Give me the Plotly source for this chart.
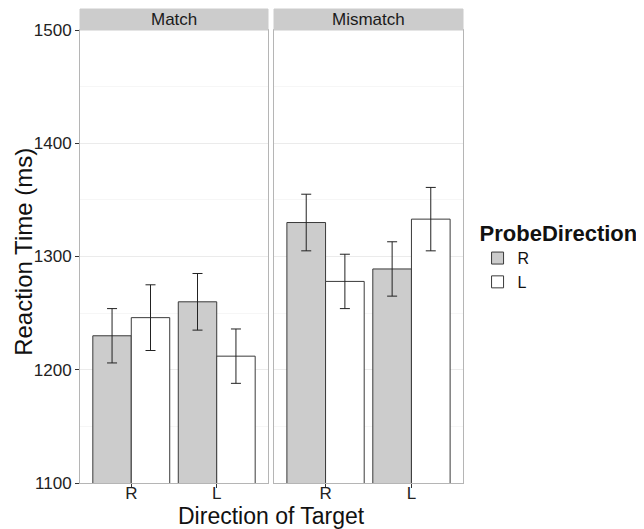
import plotly.graph_objects as go

target_dirs = ["R", "L"]
panels = ["Match", "Mismatch"]
probe_dirs = ["R", "L"]

# mean RT per panel / probe direction, over target_dirs
match_R = [1230, 1260]
match_L = [1246, 1212]
mismatch_R = [1330, 1289]
mismatch_L = [1278, 1333]
# standard errors
match_R_se = [24, 25]
match_L_se = [29, 24]
mismatch_R_se = [25, 24]
mismatch_L_se = [24, 28]

y_ticks = [1100, 1200, 1300, 1400, 1500]

FONT = "Liberation Sans, Arial, Helvetica, sans-serif"
fills = {"R": "#cccccc", "L": "#ffffff"}
data = {
    ("Match", "R"): (match_R, match_R_se),
    ("Match", "L"): (match_L, match_L_se),
    ("Mismatch", "R"): (mismatch_R, mismatch_R_se),
    ("Mismatch", "L"): (mismatch_L, mismatch_L_se),
}

fig = go.Figure()
for pi, panel in enumerate(panels):
    xa = "x" if pi == 0 else "x2"
    ya = "y" if pi == 0 else "y2"
    for probe in probe_dirs:
        vals, se = data[(panel, probe)]
        fig.add_trace(go.Bar(
            x=target_dirs, y=vals, name=probe,
            xaxis=xa, yaxis=ya,
            offsetgroup=probe, legendgroup=probe,
            showlegend=(pi == 0),
            marker=dict(color=fills[probe], line=dict(color="#3a3a3a", width=1)),
            error_y=dict(type="data", array=se, visible=True,
                         color="#222222", thickness=1, width=5),
        ))

w1 = 188 / 383
g0 = 194 / 383
common_y = dict(range=[1100, 1500], tickvals=y_ticks,
                showgrid=True, gridcolor="#ebebeb", gridwidth=1,
                minor=dict(dtick=50, showgrid=True, gridcolor="#f6f6f6", gridwidth=1),
                zeroline=False, showline=True, mirror=True,
                linecolor="#b5b5b5", linewidth=1)
common_x = dict(range=[-0.6, 1.6], showgrid=False, zeroline=False,
                showline=True, mirror=True, linecolor="#b5b5b5", linewidth=1,
                ticks="outside", ticklen=4, tickcolor="#333333",
                ticklabelstandoff=-9,
                tickfont=dict(family=FONT, size=17, color="#222222"))

# page body has an 8px default margin, so the figure is sized to fit the window
fig.update_layout(
    width=636, height=521,
    margin=dict(l=72, r=181, t=22, b=46, autoexpand=False),
    paper_bgcolor="white", plot_bgcolor="white",
    barmode="group", bargap=0.1, bargroupgap=0,
    font=dict(family=FONT, color="#222222"),
    xaxis=dict(domain=[0, w1], anchor="y", **common_x),
    xaxis2=dict(domain=[g0, 1], anchor="y2", **common_x),
    yaxis=dict(anchor="x", ticks="outside", ticklen=4, tickcolor="#333333",
               tickfont=dict(family=FONT, size=17, color="#222222"),
               **common_y),
    yaxis2=dict(anchor="x2", showticklabels=False, ticks="", **common_y),
    legend=dict(x=1.038, y=0.597, xanchor="left", yanchor="top",
                title=dict(text="<b>ProbeDirection</b>", font=dict(family=FONT, size=22, color="#111111")),
                font=dict(family=FONT, size=16, color="#111111"),
                tracegroupgap=0, itemwidth=30),
    showlegend=True,
)

strip_h = 21 / 453
for pi, panel in enumerate(panels):
    x0, x1 = (0, w1) if pi == 0 else (g0, 1)
    fig.add_shape(type="rect", xref="paper", yref="paper",
                  x0=x0, x1=x1, y0=1, y1=1 + strip_h,
                  fillcolor="#cccccc", line=dict(color="#cccccc", width=1))
    fig.add_annotation(xref="paper", yref="paper", x=(x0 + x1) / 2, y=1 + strip_h / 2,
                       text=panel, showarrow=False, xanchor="center", yanchor="middle",
                       font=dict(family=FONT, size=17, color="#1a1a1a"))

fig.add_annotation(xref="paper", yref="paper", x=0.501, y=-0.072,
                   text="Direction of Target", showarrow=False,
                   xanchor="center", yanchor="middle",
                   font=dict(family=FONT, size=23, color="#111111"))
fig.add_annotation(xref="paper", yref="paper", x=-0.148, y=0.511,
                   text="Reaction Time (ms)", showarrow=False, textangle=-90,
                   xanchor="center", yanchor="middle",
                   font=dict(family=FONT, size=24, color="#111111"))

fig.write_html("out.html")
